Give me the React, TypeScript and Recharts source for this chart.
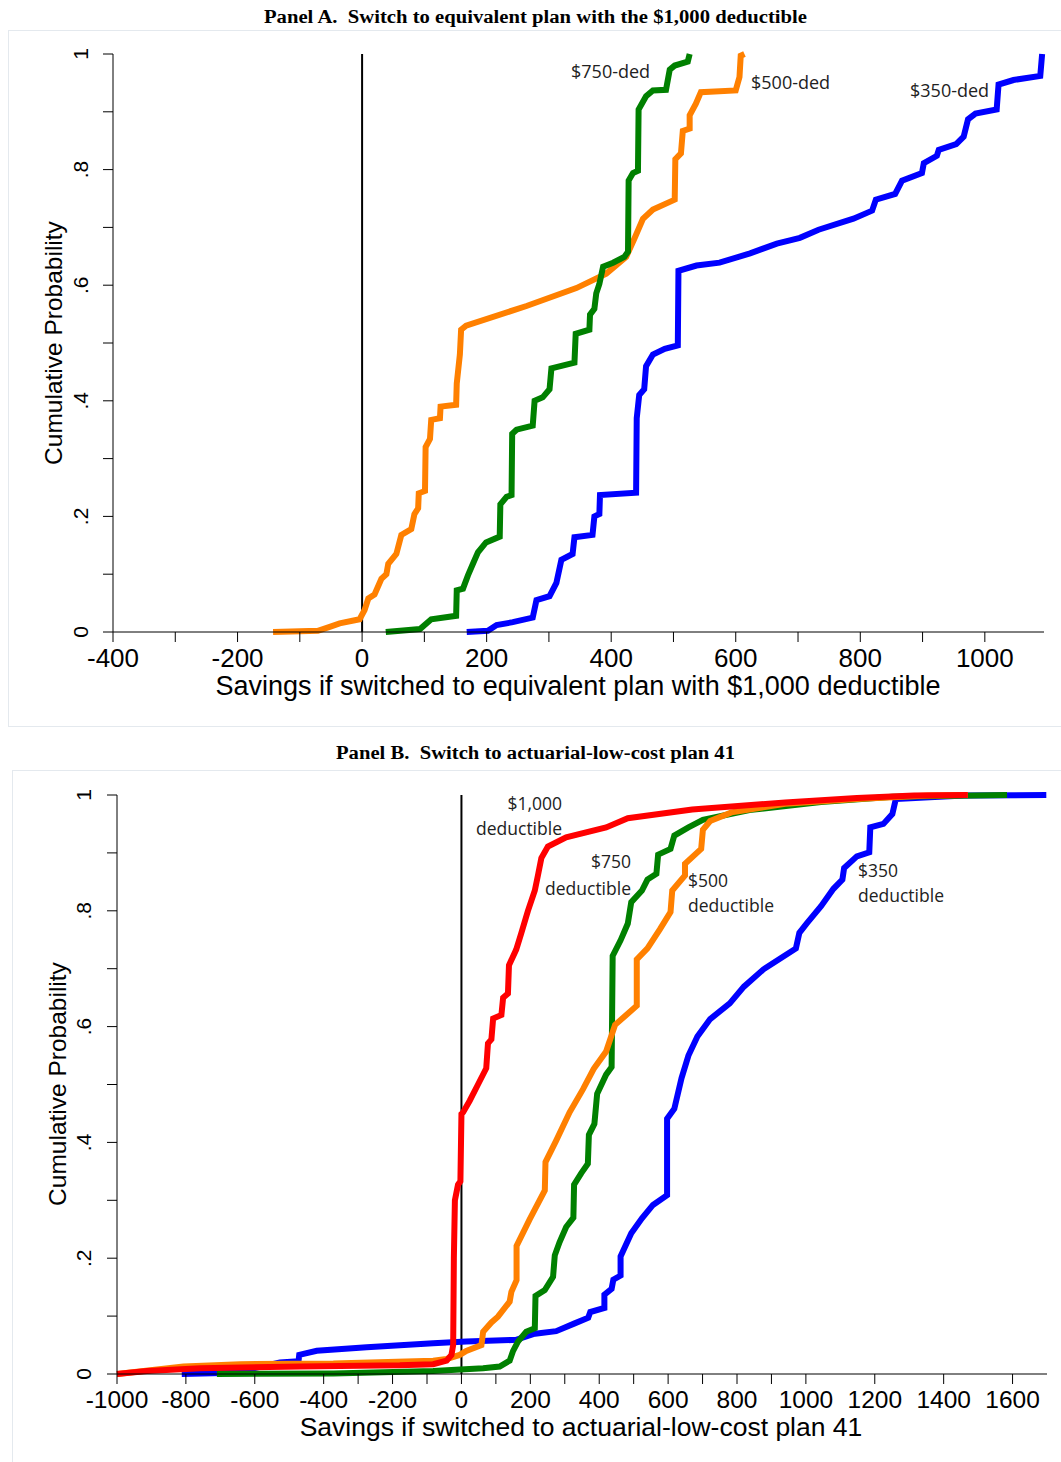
import React from 'react';
import { LineChart, Line, XAxis, YAxis, ReferenceLine } from 'recharts';

type Pt = [number, number];

// Panel A: savings if switched to the $1,000 deductible plan (x, cumulative share)
const panelA500: Pt[] = [
  [-143, 0], [-71, 0.002], [-52, 0.009], [-36, 0.015], [-4, 0.022], [4, 0.038], [10, 0.058],
  [20, 0.065], [31, 0.092], [39, 0.1], [42, 0.118], [55, 0.135], [63, 0.168], [79, 0.178],
  [84, 0.204], [90, 0.214], [91, 0.24], [101, 0.244], [102, 0.32], [109, 0.334], [111, 0.367],
  [125, 0.37], [126, 0.39], [151, 0.393], [152, 0.43], [157, 0.48], [159, 0.523], [167, 0.53],
  [264, 0.564], [344, 0.595], [392, 0.62], [424, 0.649], [437, 0.68], [451, 0.715], [467, 0.731],
  [502, 0.748], [503, 0.818], [512, 0.828], [515, 0.867], [526, 0.871], [526, 0.894], [536, 0.914],
  [544, 0.934], [600, 0.937], [606, 0.96], [608, 0.997], [614, 1],
];

const panelA750: Pt[] = [
  [38, 0], [93, 0.005], [111, 0.022], [151, 0.028], [152, 0.072], [162, 0.075], [170, 0.098],
  [178, 0.118], [186, 0.138], [199, 0.155], [221, 0.165], [222, 0.221], [232, 0.234], [240, 0.237],
  [241, 0.343], [248, 0.35], [274, 0.357], [277, 0.4], [290, 0.406], [301, 0.42], [304, 0.456],
  [341, 0.466], [343, 0.516], [365, 0.523], [366, 0.549], [373, 0.559], [376, 0.586], [381, 0.602],
  [387, 0.632], [403, 0.639], [421, 0.649], [427, 0.658], [428, 0.781], [435, 0.794], [443, 0.798],
  [444, 0.904], [456, 0.927], [467, 0.937], [488, 0.938], [494, 0.973], [502, 0.98], [523, 0.987],
  [526, 1],
];

const panelA350: Pt[] = [
  [168, 0], [202, 0.002], [216, 0.012], [242, 0.017], [274, 0.025], [280, 0.055], [301, 0.062],
  [312, 0.085], [320, 0.125], [338, 0.135], [341, 0.164], [370, 0.168], [373, 0.2], [381, 0.204],
  [382, 0.237], [440, 0.241], [441, 0.37], [445, 0.41], [453, 0.42], [456, 0.46], [467, 0.48],
  [486, 0.49], [507, 0.496], [508, 0.625], [537, 0.634], [574, 0.639], [623, 0.655], [666, 0.672],
  [703, 0.682], [733, 0.696], [789, 0.715], [819, 0.729], [825, 0.748], [856, 0.758], [867, 0.781],
  [899, 0.794], [902, 0.811], [923, 0.824], [926, 0.834], [954, 0.844], [966, 0.857], [973, 0.887],
  [985, 0.897], [1019, 0.904], [1022, 0.947], [1046, 0.955], [1089, 0.962], [1092, 1],
];

// Panel B: savings if switched to actuarial-low-cost plan 41
const panelB1000: Pt[] = [
  [-1000, 0], [-913, 0.005], [-758, 0.01], [-469, 0.013], [-179, 0.015], [-82, 0.017], [-43, 0.023],
  [-29, 0.033], [-24, 0.05], [-22, 0.2], [-19, 0.3], [-10, 0.327], [-3, 0.333], [0, 0.449],
  [5, 0.452], [24, 0.472], [48, 0.5], [72, 0.528], [77, 0.571], [87, 0.578], [92, 0.614],
  [116, 0.62], [121, 0.65], [135, 0.657], [138, 0.706], [159, 0.733], [174, 0.762], [193, 0.8],
  [213, 0.835], [222, 0.861], [232, 0.891], [251, 0.911], [304, 0.927], [420, 0.944], [483, 0.96],
  [670, 0.975], [940, 0.987], [1148, 0.995], [1314, 0.999], [1470, 1],
];

const panelB500: Pt[] = [
  [-1000, 0], [-807, 0.013], [-642, 0.017], [-372, 0.018], [-82, 0.023], [-43, 0.026], [-5, 0.033],
  [14, 0.04], [58, 0.05], [63, 0.073], [87, 0.089], [106, 0.099], [140, 0.125], [145, 0.142],
  [160, 0.162], [160, 0.221], [198, 0.267], [242, 0.317], [244, 0.366], [275, 0.403], [314, 0.452],
  [353, 0.492], [384, 0.527], [420, 0.557], [446, 0.603], [509, 0.636], [509, 0.716], [540, 0.735],
  [576, 0.768], [607, 0.798], [612, 0.835], [649, 0.861], [649, 0.881], [696, 0.907], [701, 0.94],
  [722, 0.955], [784, 0.97], [940, 0.985], [1148, 0.993], [1355, 0.999], [1470, 1],
];

const panelB750: Pt[] = [
  [-710, 0], [-372, 0.001], [-82, 0.005], [63, 0.01], [111, 0.013], [140, 0.023], [150, 0.04],
  [164, 0.056], [188, 0.073], [213, 0.079], [215, 0.135], [242, 0.145], [266, 0.168], [271, 0.205],
  [285, 0.228], [304, 0.254], [325, 0.27], [327, 0.327], [348, 0.347], [367, 0.363], [370, 0.413],
  [386, 0.432], [394, 0.484], [420, 0.517], [436, 0.53], [439, 0.722], [462, 0.749], [483, 0.778],
  [493, 0.815], [524, 0.835], [540, 0.854], [566, 0.864], [571, 0.897], [607, 0.907], [618, 0.93],
  [659, 0.944], [701, 0.957], [836, 0.974], [1044, 0.988], [1251, 0.997], [1584, 1],
];

const panelB350: Pt[] = [
  [-812, 0], [-662, 0.002], [-527, 0.02], [-473, 0.022], [-471, 0.033], [-420, 0.04], [-275, 0.046],
  [-82, 0.053], [14, 0.056], [159, 0.059], [208, 0.069], [275, 0.074], [327, 0.087], [368, 0.097],
  [374, 0.107], [415, 0.114], [415, 0.137], [436, 0.147], [441, 0.163], [462, 0.17], [462, 0.203],
  [493, 0.243], [524, 0.269], [556, 0.292], [597, 0.309], [597, 0.441], [618, 0.458], [639, 0.511],
  [659, 0.55], [685, 0.583], [722, 0.613], [779, 0.64], [820, 0.669], [877, 0.699], [929, 0.719],
  [971, 0.735], [981, 0.762], [1002, 0.778], [1044, 0.808], [1080, 0.838], [1106, 0.854],
  [1111, 0.874], [1148, 0.894], [1184, 0.901], [1187, 0.944], [1225, 0.95], [1251, 0.967],
  [1261, 0.993], [1459, 0.999], [1698, 1],
];

const ticksA = [-400, -300, -200, -100, 0, 100, 200, 300, 400, 500, 600, 700, 800, 900, 1000];
const ticksB = [
  -1000, -800, -600, -400, -300, -200, -100, 0, 100, 200, 300, 400, 500, 600, 700, 800, 900, 1000,
  1200, 1400, 1600,
];
const probTicks = [0, 0.1, 0.2, 0.3, 0.4, 0.5, 0.6, 0.7, 0.8, 0.9, 1];

const ORANGE = '#ff8000';
const GREEN = '#008000';
const BLUE = '#0000ff';
const RED = '#ff0000';

const SANS = '"Liberation Sans", Arial, sans-serif';
const NOTE = '"Open Sans", "Noto Sans", sans-serif';

const rows = (pts: Pt[]) => pts.map(([x, y]) => ({ x, y }));

const makeXTick = (size: number) => (props: any) => {
  const { x, y, payload } = props;
  if (payload.value % 200 !== 0) return <g />;
  return (
    <text x={x} y={y} dy="0.71em" textAnchor="middle" fontSize={size} fontFamily={SANS} fill="#000">
      {payload.value}
    </text>
  );
};
const XTickA = makeXTick(26);
const XTickB = makeXTick(24.5);

const YTick = (props: any) => {
  const { x, y, payload } = props;
  const v = Math.round(payload.value * 10);
  if (v % 2 !== 0) return <g />;
  const label = v === 0 ? '0' : v === 10 ? '1' : '.' + v;
  return (
    <text
      x={x}
      y={y}
      transform={`rotate(-90 ${x} ${y})`}
      textAnchor="middle"
      fontSize={21}
      fontFamily={SANS}
      fill="#000"
    >
      {label}
    </text>
  );
};

const line = (key: string, pts: Pt[], color: string) => (
  <Line
    key={key}
    data={rows(pts)}
    dataKey="y"
    type="linear"
    stroke={color}
    strokeWidth={6}
    dot={false}
    activeDot={false}
    isAnimationActive={false}
  />
);

export default function App() {
  return (
    <div style={{ position: 'absolute', left: 0, top: 0, width: 1061, height: 1462, background: '#fff' }}>
      <div style={{ position: 'absolute', left: 0, top: 0 }}>
        <LineChart width={1061} height={727} margin={{ top: 54, right: 17, bottom: 0, left: 0 }}>
          <XAxis
            dataKey="x"
            type="number"
            domain={[-400, 1095]}
            ticks={ticksA}
            interval={0}
            height={95}
            tickSize={10}
            tickMargin={7}
            tick={XTickA}
            axisLine={{ stroke: '#000' }}
            tickLine={{ stroke: '#000' }}
          />
          <YAxis
            type="number"
            domain={[0, 1]}
            ticks={probTicks}
            interval={0}
            width={113}
            tickSize={10}
            tickMargin={15}
            tick={YTick}
            axisLine={{ stroke: '#000' }}
            tickLine={{ stroke: '#000' }}
          />
          <ReferenceLine x={0} stroke="#000" strokeWidth={2} />
          {line('a500', panelA500, ORANGE)}
          {line('a750', panelA750, GREEN)}
          {line('a350', panelA350, BLUE)}
        </LineChart>
      </div>

      <div style={{ position: 'absolute', left: 0, top: 740 }}>
        <LineChart width={1061} height={722} margin={{ top: 55, right: 14, bottom: 0, left: 0 }}>
          <XAxis
            dataKey="x"
            type="number"
            domain={[-1000, 1700]}
            ticks={ticksB}
            interval={0}
            height={88}
            tickSize={10}
            tickMargin={7}
            tick={XTickB}
            axisLine={{ stroke: '#000' }}
            tickLine={{ stroke: '#000' }}
          />
          <YAxis
            type="number"
            domain={[0, 1]}
            ticks={probTicks}
            interval={0}
            width={117}
            tickSize={10}
            tickMargin={16}
            tick={YTick}
            axisLine={{ stroke: '#000' }}
            tickLine={{ stroke: '#000' }}
          />
          <ReferenceLine x={0} stroke="#000" strokeWidth={2} />
          {line('b350', panelB350, BLUE)}
          {line('b750', panelB750, GREEN)}
          {line('b500', panelB500, ORANGE)}
          {line('b1000', panelB1000, RED)}
        </LineChart>
      </div>

      <svg
        width={1061}
        height={1462}
        style={{ position: 'absolute', left: 0, top: 0, pointerEvents: 'none' }}
      >
        <rect x={8.5} y={30.5} width={1060} height={696} fill="none" stroke="#e4e9ee" />
        <rect x={12.5} y={770.5} width={1056} height={700} fill="none" stroke="#e4e9ee" />

        <text
          x={264}
          y={23}
          textLength={543}
          lengthAdjust="spacingAndGlyphs"
          fontSize={18}
          fontWeight="bold"
          fontFamily='"Liberation Serif", "Times New Roman", serif'
          style={{ whiteSpace: 'pre' }}
        >
          {'Panel A.  Switch to equivalent plan with the $1,000 deductible'}
        </text>
        <text
          x={336}
          y={759}
          textLength={399}
          lengthAdjust="spacingAndGlyphs"
          fontSize={18}
          fontWeight="bold"
          fontFamily='"Liberation Serif", "Times New Roman", serif'
          style={{ whiteSpace: 'pre' }}
        >
          {'Panel B.  Switch to actuarial-low-cost plan 41'}
        </text>

        <text x={578} y={695} textAnchor="middle" fontSize={27} fontFamily={SANS}>
          Savings if switched to equivalent plan with $1,000 deductible
        </text>
        <text x={581} y={1436} textAnchor="middle" fontSize={26.5} fontFamily={SANS}>
          Savings if switched to actuarial-low-cost plan 41
        </text>
        <text x={62} y={343} transform="rotate(-90 62 343)" textAnchor="middle" fontSize={24.5} fontFamily={SANS}>
          Cumulative Probability
        </text>
        <text x={66} y={1084} transform="rotate(-90 66 1084)" textAnchor="middle" fontSize={24.5} fontFamily={SANS}>
          Cumulative Probability
        </text>

        <g fontFamily={NOTE} fontSize={18} fill="#222">
          <text x={571} y={78}>$750-ded</text>
          <text x={751} y={89}>$500-ded</text>
          <text x={910} y={97}>$350-ded</text>
        </g>
        <g fontFamily={NOTE} fontSize={17.5} fill="#222">
          <text x={562} y={810} textAnchor="end">$1,000</text>
          <text x={562} y={835} textAnchor="end">deductible</text>
          <text x={631} y={868} textAnchor="end">$750</text>
          <text x={631} y={895} textAnchor="end">deductible</text>
          <text x={688} y={887}>$500</text>
          <text x={688} y={912}>deductible</text>
          <text x={858} y={877}>$350</text>
          <text x={858} y={902}>deductible</text>
        </g>
      </svg>
    </div>
  );
}
